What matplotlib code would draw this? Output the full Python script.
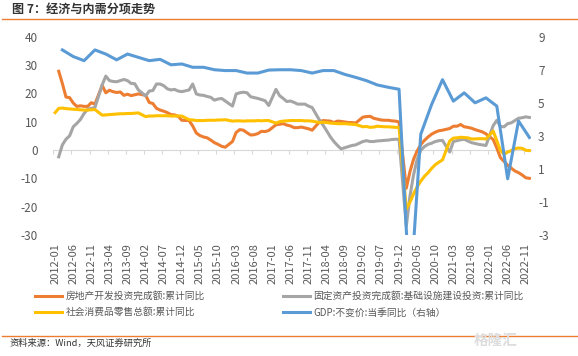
import numpy as np
import pandas as pd
import matplotlib
matplotlib.use('Agg')
import matplotlib.pyplot as plt
from matplotlib.lines import Line2D

plt.rcParams['font.family'] = ['Noto Sans CJK SC', 'DejaVu Sans']
plt.rcParams['axes.unicode_minus'] = False

months = pd.date_range('2012-01-01', '2022-12-01', freq='MS').strftime('%Y-%m').tolist()

N = None  # 1月无单独数据
# 房地产开发投资完成额:累计同比 (%), 每行一年 1-12月
house = [
    N, 27.8, 23.5, 18.7, 18.5, 16.6, 15.4, 15.6, 15.4, 15.4, 16.7, 16.2,
    N, 22.8, 20.2, 21.1, 20.6, 20.3, 20.5, 19.3, 19.7, 19.2, 19.5, 19.8,
    N, 19.3, 16.8, 16.4, 14.7, 14.1, 13.7, 13.2, 12.5, 12.4, 11.9, 10.5,
    N, 10.4, 8.5, 6.0, 5.1, 4.6, 4.3, 3.5, 2.6, 2.0, 1.3, 1.0,
    N, 3.0, 6.2, 7.2, 7.0, 6.1, 5.3, 5.4, 5.8, 6.6, 6.5, 6.9,
    N, 8.9, 9.1, 9.3, 8.8, 8.5, 7.9, 7.9, 8.1, 7.8, 7.5, 7.0,
    N, 9.9, 10.4, 10.3, 10.2, 9.7, 10.2, 10.1, 9.9, 9.7, 9.7, 9.5,
    N, 11.6, 11.8, 11.9, 11.2, 10.9, 10.6, 10.5, 10.5, 10.3, 10.2, 9.9,
    N, -13.5, -7.7, -3.3, -0.3, 1.9, 3.4, 4.6, 5.6, 6.3, 6.8, 7.0,
    N, 7.6, 8.4, 8.4, 9.0, 8.2, 8.0, 7.7, 7.2, 6.8, 6.4, 5.7,
    N, 3.7, 0.7, -2.7, -4.0, -5.4, -6.4, -7.4, -8.0, -8.8, -9.8, -10.0,
]
# 固定资产投资完成额:基础设施建设投资:累计同比 (%)
infra = [
    N, -2.4, 1.8, 3.8, 5.0, 8.2, 9.4, 10.8, 12.9, 14.4, 14.7, 15.0,
    N, 23.0, 26.1, 24.5, 24.2, 24.1, 24.5, 24.9, 24.5, 23.5, 23.4, 21.2,
    N, 19.1, 20.8, 21.0, 23.3, 23.3, 22.7, 21.6, 21.2, 21.4, 20.8, 20.6,
    N, 21.2, 23.3, 19.8, 19.4, 19.3, 18.9, 18.6, 17.6, 18.0, 18.2, 17.3,
    N, 15.5, 19.8, 20.2, 20.4, 20.2, 18.8, 18.5, 18.2, 17.8, 17.4, 15.7,
    N, 21.4, 19.2, 18.2, 17.1, 17.3, 16.8, 16.2, 16.2, 16.2, 15.5, 15.0,
    N, 10.6, 8.8, 6.8, 4.7, 3.0, 1.6, 0.4, 0.8, 1.2, 1.6, 1.8,
    N, 3.0, 3.3, 3.0, 3.0, 3.2, 3.3, 3.4, 3.5, 3.7, 3.8, 3.8,
    N, -26.9, -16.4, -8.8, -3.3, -0.1, 1.2, 2.0, 2.4, 3.0, 3.3, 3.4,
    N, -0.7, 3.0, 3.3, 3.6, 3.8, 3.2, 2.6, 2.3, 2.0, 1.8, 1.6,
    N, 8.6, 10.5, 8.3, 8.2, 9.3, 9.6, 10.4, 11.2, 11.4, 11.7, 11.5,
]
# 社会消费品零售总额:累计同比 (%)
retail = [
    13.2, 14.7, 14.8, 14.6, 14.5, 14.4, 14.3, 14.2, 14.1, 14.1, 14.2, 14.3,
    N, 12.3, 12.4, 12.5, 12.6, 12.7, 12.8, 12.8, 12.9, 12.9, 13.0, 13.1,
    N, 11.8, 12.0, 12.0, 12.1, 12.1, 12.1, 12.1, 12.0, 12.0, 12.0, 12.0,
    N, 10.7, 10.6, 10.4, 10.4, 10.4, 10.5, 10.5, 10.5, 10.6, 10.6, 10.7,
    N, 10.2, 10.3, 10.3, 10.2, 10.3, 10.3, 10.3, 10.4, 10.3, 10.4, 10.4,
    N, 9.5, 10.0, 10.2, 10.3, 10.4, 10.4, 10.4, 10.4, 10.3, 10.3, 10.2,
    N, 9.7, 9.8, 9.7, 9.5, 9.4, 9.3, 9.3, 9.3, 9.2, 9.1, 9.0,
    N, 8.2, 8.3, 8.0, 8.1, 8.4, 8.3, 8.2, 8.2, 8.1, 8.0, 8.0,
    N, -20.8, -18.5, -15.5, -13.0, -11.0, -9.3, -8.0, -6.5, -5.2, -4.3, -3.5,
    N, 3.2, 4.2, 4.3, 4.5, 4.4, 4.3, 3.9, 3.9, 4.0, 4.0, 3.9,
    N, 6.7, 3.3, -0.2, -1.5, -0.7, -0.2, 0.5, 0.7, 0.6, -0.1, -0.2,
]
# GDP:不变价:当季同比 (%), 每季度末月
gdp_q = [
    8.2, 7.8, 7.55, 8.2,
    7.95, 7.6, 7.95, 7.75,
    7.55, 7.63, 7.3, 7.35,
    7.15, 7.15, 7.0, 6.95,
    6.95, 6.8, 6.8, 6.98,
    7.0, 7.0, 6.95, 6.8,
    6.95, 6.95, 6.72, 6.54,
    6.34, 6.08, 5.94, 5.82,
    -6.9, 3.1, 4.9, 6.4,
    5.1, 5.6, 5.0, 5.3,
    4.8, 0.4, 3.9, 2.9,
]
gdp = [N] * len(months)
for k, m in enumerate(months[2::3]):
    gdp[months.index(m)] = gdp_q[k]

labels = ['房地产开发投资完成额:累计同比', '固定资产投资完成额:基础设施建设投资:累计同比',
          '社会消费品零售总额:累计同比', 'GDP:不变价:当季同比（右轴）']
colors = ['#ED7D31', '#A5A5A5', '#FFC000', '#5B9BD5']

W, H = 578, 356
fig = plt.figure(figsize=(W / 100, H / 100), dpi=100)
ax = fig.add_axes([53.3 / W, 1 - 235 / H, (531.2 - 53.3) / W, (235 - 36.7) / H])
ax2 = ax.twinx()

x = np.arange(len(months))
handles = []
for vals, lab, c in zip([house, infra, retail], labels[:3], colors[:3]):
    s = pd.Series(vals, dtype=float)
    m = s.notna().values
    h, = ax.plot(x[m], s.values[m], color=c, lw=2.2, label=lab, zorder=3,
                 solid_joinstyle='round')
    handles.append(h)
s = pd.Series(gdp, dtype=float)
m = s.notna().values
h, = ax2.plot(x[m], s.values[m], color=colors[3], lw=2.2, label=labels[3],
              solid_joinstyle='round')
handles.append(h)

ax.set_xlim(-0.5, len(months) - 0.5)
ax.set_ylim(-30, 40)
ax.set_yticks(range(-30, 41, 10))
ax2.set_ylim(-3, 9)
ax2.set_yticks(range(-3, 10, 2))

for a in (ax, ax2):
    for sp in a.spines.values():
        sp.set_visible(False)
ax.spines['bottom'].set_visible(True)
ax.spines['bottom'].set_position(('data', 0))
ax.spines['bottom'].set_color('#D9D9D9')
ax.spines['bottom'].set_linewidth(0.8)
ax.set_xticks(np.arange(-0.5, len(months), 5))
ax.tick_params(axis='x', length=3, width=0.8, color='#D9D9D9', labelbottom=False)
ax.tick_params(axis='y', length=0, labelsize=8.5, labelcolor='#595959', pad=11)
ax2.tick_params(axis='y', length=0, labelsize=8.5, labelcolor='#595959', pad=5)

sec = ax.secondary_xaxis('bottom')
tick_idx = list(range(0, len(months), 5))
sec.set_xticks(tick_idx, labels=[months[i] for i in tick_idx], rotation=90)
sec.tick_params(length=0, labelsize=8, labelcolor='#595959', pad=6)
for sp in sec.spines.values():
    sp.set_visible(False)

order = [0, 2, 1, 3]
fig.legend([handles[i] for i in order], [labels[i] for i in order], ncol=2,
           loc='upper left', bbox_to_anchor=(35 / W, 1 - 291 / H), frameon=False,
           fontsize=7, handlelength=2.8, handletextpad=0.35, columnspacing=8,
           labelspacing=0.65, borderpad=0, borderaxespad=0, labelcolor='#595959')

fig.text(12 / W, 1 - 10 / H, '图 7：经济与内需分项走势', fontsize=8.7, fontweight='bold',
         color='#333333', va='center', ha='left')
fig.add_artist(Line2D([2 / W, 1], [1 - 19 / H, 1 - 19 / H], color='#ED7D31', lw=1))
fig.add_artist(Line2D([2 / W, 1], [1 - 336 / H, 1 - 336 / H], color='#ED7D31', lw=1))
fig.text(10 / W, 1 - 343.5 / H, '资料来源：Wind，天风证券研究所', fontsize=6.7,
         color='#333333', va='center', ha='left')
fig.text(496 / W, 1 - 340 / H, '格隆汇', fontsize=10.5, fontweight='bold',
         color='#DDDDDD', va='center', ha='center')

fig.savefig('out.png', dpi=100)
